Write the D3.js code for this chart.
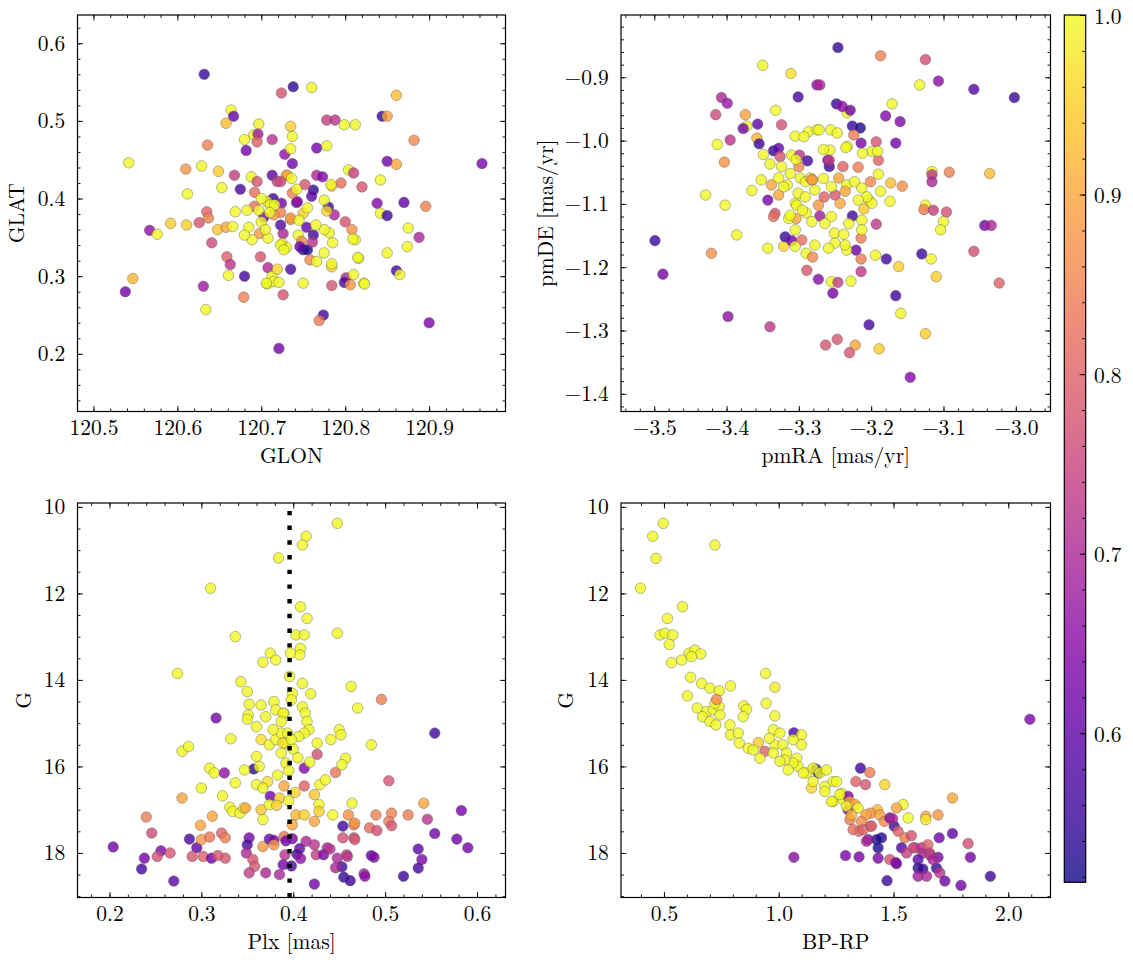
<!DOCTYPE html>
<html><head><meta charset="utf-8">
<script src="https://cdn.jsdelivr.net/npm/d3@7"></script>
<style>body{margin:0;background:#fff}</style>
</head><body>
<svg id="c" width="1133" height="965"></svg>
<script>
// ---- data: [x, y, membership probability] ----
const glonGlat = [
[120.632,0.560,0.55],[120.738,0.544,0.55],[120.724,0.536,0.78],[120.664,0.514,1.0],[120.667,0.506,0.60],
[120.658,0.497,0.93],[120.697,0.496,0.99],[120.691,0.482,1.0],[120.680,0.476,1.0],[120.696,0.483,0.68],
[120.695,0.473,0.80],[120.713,0.476,0.72],[120.682,0.462,0.62],[120.636,0.469,0.85],[120.542,0.446,1.0],
[120.610,0.438,0.88],[120.629,0.442,1.0],[120.649,0.435,0.95],[120.668,0.430,0.74],[120.612,0.406,1.0],
[120.653,0.414,1.0],[120.675,0.412,0.57],[120.688,0.428,1.0],[120.695,0.422,0.78],[120.692,0.408,0.82],
[120.692,0.390,0.82],[120.683,0.385,1.0],[120.669,0.383,1.0],[120.635,0.383,0.80],[120.626,0.369,0.78],
[120.637,0.375,0.85],[120.592,0.368,0.95],[120.611,0.366,0.95],[120.567,0.359,0.66],[120.576,0.354,1.0],
[120.648,0.360,0.94],[120.658,0.363,0.90],[120.666,0.364,1.0],[120.685,0.363,1.0],[120.698,0.355,0.88],
[120.689,0.347,1.0],[120.703,0.376,0.62],[120.641,0.343,0.76],[120.659,0.325,0.80],[120.663,0.315,0.72],
[120.661,0.301,1.0],[120.680,0.300,0.57],[120.699,0.325,0.78],[120.708,0.311,0.70],[120.707,0.290,1.0],
[120.713,0.300,1.0],[120.719,0.309,0.96],[120.714,0.293,1.0],[120.735,0.309,0.57],[120.726,0.276,0.78],
[120.679,0.273,0.85],[120.631,0.287,0.68],[120.634,0.257,1.0],[120.547,0.297,0.92],[120.538,0.280,0.62],
[120.721,0.207,0.62],[120.728,0.457,0.66],[120.737,0.445,0.62],[120.735,0.493,0.95],[120.737,0.480,1.0],
[120.735,0.464,1.0],[120.730,0.430,0.92],[120.713,0.430,0.60],[120.719,0.422,0.74],[120.714,0.400,0.55],
[120.724,0.394,0.62],[120.723,0.382,0.85],[120.723,0.366,0.58],[120.726,0.355,0.70],[120.725,0.342,1.0],
[120.730,0.337,1.0],[120.735,0.373,0.90],[120.742,0.395,0.62],[120.766,0.465,0.63],[120.778,0.468,1.0],
[120.844,0.506,0.55],[120.778,0.501,0.74],[120.788,0.501,0.72],[120.799,0.495,1.0],[120.812,0.495,1.0],
[120.850,0.448,0.62],[120.842,0.424,1.0],[120.820,0.415,0.78],[120.804,0.437,1.0],[120.810,0.433,0.74],
[120.795,0.420,0.82],[120.838,0.394,0.64],[120.842,0.381,1.0],[120.850,0.378,0.56],[120.816,0.323,1.0],
[120.800,0.370,0.78],[120.808,0.360,0.87],[120.812,0.347,1.0],[120.801,0.298,0.70],[120.799,0.292,0.57],
[120.806,0.289,0.88],[120.810,0.302,1.0],[120.822,0.291,1.0],[120.784,0.288,0.78],[120.784,0.312,0.95],
[120.784,0.316,1.0],[120.774,0.250,0.57],[120.769,0.243,0.84],[120.750,0.291,1.0],[120.706,0.291,1.0],
[120.721,0.292,1.0],[120.723,0.340,1.0],[120.727,0.334,1.0],[120.744,0.353,1.0],[120.748,0.345,0.85],
[120.750,0.334,0.55],[120.755,0.334,0.53],[120.746,0.338,0.60],[120.758,0.321,0.86],[120.766,0.319,1.0],
[120.775,0.330,1.0],[120.785,0.343,1.0],[120.781,0.356,1.0],[120.775,0.360,1.0],[120.762,0.353,0.56],
[120.754,0.363,0.60],[120.765,0.366,1.0],[120.761,0.344,0.72],[120.780,0.389,0.56],[120.787,0.379,0.70],
[120.775,0.398,1.0],[120.778,0.384,0.96],[120.762,0.411,0.55],[120.760,0.403,0.60],[120.766,0.430,0.70],
[120.773,0.428,0.64],[120.784,0.416,0.95],[120.752,0.418,0.78],[120.750,0.381,0.95],[120.743,0.396,0.66],
[120.737,0.407,0.84],[120.731,0.430,0.90],[120.736,0.426,1.0],[120.723,0.422,0.76],[120.715,0.379,0.88],
[120.735,0.375,0.88],[120.708,0.349,1.0],[120.680,0.353,1.0],[120.707,0.396,1.0],[120.711,0.392,1.0],
[120.716,0.392,1.0],[120.760,0.543,1.0],[120.861,0.533,0.93],[120.850,0.506,0.90],[120.882,0.475,0.86],
[120.861,0.444,0.90],[120.963,0.445,0.63],[120.870,0.395,0.60],[120.896,0.390,0.85],[120.875,0.362,1.0],
[120.888,0.350,0.70],[120.874,0.338,1.0],[120.850,0.330,1.0],[120.861,0.307,0.57],[120.865,0.302,1.0],
[120.823,0.290,1.0],[120.815,0.324,1.0],[120.809,0.348,1.0],[120.900,0.240,0.63],[120.783,0.418,1.0],
[120.700,0.370,1.0],[120.705,0.360,1.0],[120.710,0.382,1.0],[120.745,0.372,1.0],[120.755,0.388,1.0],
[120.742,0.412,1.0],[120.700,0.400,1.0],[120.697,0.385,1.0]
];
const pmraPmde = [
[-3.350,-0.881,1.0],[-3.311,-0.894,0.97],[-3.275,-0.912,0.66],[-3.301,-0.931,0.57],[-3.407,-0.932,0.70],
[-3.399,-0.941,0.67],[-3.415,-0.959,0.76],[-3.374,-0.959,0.90],[-3.332,-0.952,1.0],[-3.372,-0.977,1.0],
[-3.357,-0.974,0.60],[-3.377,-0.981,0.62],[-3.324,-0.975,0.77],[-3.395,-0.999,0.72],[-3.358,-0.996,0.92],
[-3.355,-1.005,0.56],[-3.413,-1.006,1.0],[-3.403,-1.034,0.87],[-3.335,-1.016,0.55],[-3.328,-1.012,0.60],
[-3.349,-1.022,1.0],[-3.340,-1.037,1.0],[-3.326,-1.025,0.78],[-3.305,-0.993,1.0],[-3.310,-1.023,1.0],
[-3.299,-1.023,0.72],[-3.288,-1.032,0.57],[-3.300,-1.041,0.86],[-3.287,-0.986,1.0],[-3.275,-0.983,1.0],
[-3.352,-1.062,1.0],[-3.338,-1.070,0.90],[-3.328,-1.059,1.0],[-3.316,-1.070,1.0],[-3.328,-1.086,0.90],
[-3.343,-1.094,0.63],[-3.365,-1.079,1.0],[-3.429,-1.086,1.0],[-3.333,-1.115,0.78],[-3.335,-1.120,0.82],
[-3.402,-1.102,1.0],[-3.386,-1.149,1.0],[-3.343,-1.170,1.0],[-3.321,-1.167,0.96],[-3.319,-1.152,0.55],
[-3.310,-1.158,0.62],[-3.296,-1.157,0.82],[-3.305,-1.167,1.0],[-3.305,-1.141,1.0],[-3.305,-1.099,1.0],
[-3.304,-1.123,0.90],[-3.314,-1.123,1.0],[-3.290,-1.114,1.0],[-3.290,-1.178,1.0],[-3.281,-1.184,0.86],
[-3.289,-1.205,0.78],[-3.273,-1.219,0.65],[-3.499,-1.158,0.56],[-3.488,-1.211,0.63],[-3.421,-1.178,0.87],
[-3.398,-1.278,0.66],[-3.340,-1.294,0.73],[-3.298,-1.059,1.0],[-3.291,-1.065,1.0],[-3.284,-1.059,0.96],
[-3.246,-0.853,0.55],[-3.187,-0.866,0.85],[-3.125,-0.872,0.77],[-3.133,-0.912,1.0],[-3.107,-0.906,0.65],
[-3.058,-0.919,0.58],[-3.002,-0.932,0.56],[-3.271,-0.912,0.70],[-3.233,-0.956,1.0],[-3.248,-0.942,0.56],
[-3.240,-0.946,0.65],[-3.229,-0.952,0.62],[-3.171,-0.942,1.0],[-3.180,-0.961,0.64],[-3.160,-0.970,0.64],
[-3.226,-0.977,0.55],[-3.215,-0.980,0.53],[-3.224,-0.991,0.84],[-3.214,-1.004,0.63],[-3.193,-1.002,0.78],
[-3.190,-1.031,0.80],[-3.166,-1.004,0.62],[-3.199,-1.017,1.0],[-3.212,-1.020,1.0],[-3.233,-1.009,1.0],
[-3.257,-1.015,1.0],[-3.260,-1.031,0.63],[-3.258,-1.041,0.56],[-3.239,-1.041,0.80],[-3.218,-1.042,0.84],
[-3.272,-0.983,1.0],[-3.256,-0.983,1.0],[-3.247,-0.988,1.0],[-3.293,-0.994,1.0],[-3.116,-1.049,1.0],
[-3.116,-1.054,0.73],[-3.116,-1.065,0.70],[-3.092,-1.050,0.85],[-3.036,-1.052,0.93],[-3.201,-1.065,0.86],
[-3.173,-1.067,0.93],[-3.157,-1.072,0.87],[-3.187,-1.080,1.0],[-3.174,-1.096,1.0],[-3.245,-1.059,0.90],
[-3.281,-1.062,0.95],[-3.250,-1.086,0.78],[-3.243,-1.099,0.90],[-3.265,-1.089,0.80],[-3.210,-1.108,0.94],
[-3.203,-1.094,1.0],[-3.125,-1.102,1.0],[-3.127,-1.109,0.84],[-3.114,-1.110,0.74],[-3.096,-1.113,0.77],
[-3.100,-1.128,1.0],[-3.104,-1.141,1.0],[-3.043,-1.134,0.63],[-3.034,-1.134,0.70],[-3.058,-1.175,0.77],
[-3.023,-1.225,0.80],[-3.271,-1.119,0.68],[-3.226,-1.119,0.56],[-3.193,-1.132,0.73],[-3.214,-1.154,0.84],
[-3.251,-1.146,1.0],[-3.238,-1.148,1.0],[-3.221,-1.173,0.62],[-3.214,-1.187,0.84],[-3.214,-1.207,0.73],
[-3.194,-1.181,1.0],[-3.179,-1.187,0.56],[-3.130,-1.179,0.56],[-3.117,-1.187,1.0],[-3.162,-1.199,0.95],
[-3.110,-1.215,0.95],[-3.255,-1.223,1.0],[-3.246,-1.224,0.74],[-3.253,-1.241,0.63],[-3.228,-1.222,1.0],
[-3.166,-1.245,0.56],[-3.159,-1.273,1.0],[-3.203,-1.291,0.57],[-3.125,-1.305,0.95],[-3.263,-1.323,0.78],
[-3.247,-1.314,0.78],[-3.222,-1.323,0.90],[-3.230,-1.335,0.78],[-3.189,-1.329,0.95],[-3.146,-1.374,0.64],
[-3.191,-1.017,1.0],[-3.235,-1.011,1.0],[-3.266,-1.014,1.0],[-3.258,-1.031,0.74],[-3.304,-1.030,1.0],
[-3.282,-1.062,0.88],[-3.266,-1.060,1.0],[-3.234,-1.070,1.0],[-3.223,-1.065,1.0],[-3.213,-1.075,1.0],
[-3.190,-1.053,1.0],[-3.236,-1.080,0.90],[-3.273,-1.102,0.88],[-3.213,-1.126,1.0],[-3.234,-1.173,1.0],
[-3.301,-1.083,1.0],[-3.291,-1.089,1.0],[-3.303,-1.102,1.0],[-3.312,-1.118,1.0],[-3.295,-1.110,1.0],
[-3.282,-1.128,1.0],[-3.255,-1.120,1.0],[-3.264,-1.131,1.0],[-3.236,-1.165,1.0],[-3.250,-1.162,1.0],
[-3.199,-1.099,1.0],[-3.206,-1.089,1.0],[-3.213,-1.141,1.0],[-3.278,-1.165,1.0],[-3.259,-1.170,1.0],
[-3.324,-1.041,1.0],[-3.312,-1.052,1.0],[-3.321,-1.073,1.0],[-3.231,-1.131,1.0],[-3.218,-1.094,1.0],
[-3.255,-1.073,1.0],[-3.278,-1.078,1.0]
];
const plxG = [
[0.310,11.88,1.0],[0.337,13.00,1.0],[0.274,13.85,1.0],[0.384,11.18,1.0],[0.367,13.59,1.0],[0.375,13.38,1.0],
[0.381,13.54,1.0],[0.343,14.04,1.0],[0.350,14.27,1.0],[0.352,14.56,1.0],[0.351,14.81,1.0],[0.350,14.91,1.0],
[0.365,14.58,1.0],[0.370,14.85,1.0],[0.379,14.50,1.0],[0.381,14.69,1.0],[0.390,14.77,1.0],[0.360,15.08,1.0],
[0.365,15.38,0.97],[0.374,15.50,1.0],[0.381,15.38,1.0],[0.387,15.23,1.0],[0.392,15.46,1.0],[0.387,15.69,1.0],
[0.392,15.92,1.0],[0.316,14.88,0.63],[0.332,15.36,1.0],[0.279,15.65,1.0],[0.286,15.54,1.0],[0.309,16.04,1.0],
[0.314,16.15,1.0],[0.325,16.15,0.66],[0.337,16.38,1.0],[0.357,16.06,0.55],[0.360,15.77,1.0],[0.363,16.00,1.0],
[0.347,16.08,1.0],[0.300,16.50,1.0],[0.360,16.42,1.0],[0.372,16.35,0.97],[0.367,16.50,1.0],[0.375,16.69,0.62],
[0.390,16.45,0.90],[0.385,16.73,0.95],[0.323,16.68,1.0],[0.331,16.94,1.0],[0.334,17.04,1.0],[0.342,17.08,1.0],
[0.346,16.96,1.0],[0.348,16.96,0.90],[0.365,17.00,0.94],[0.367,17.23,1.0],[0.374,16.88,1.0],[0.279,16.73,0.90],
[0.312,17.15,0.90],[0.299,17.36,0.90],[0.240,17.17,0.84],[0.246,17.54,0.76],[0.204,17.86,0.62],[0.238,18.12,0.63],
[0.235,18.37,0.57],[0.256,17.95,0.64],[0.252,18.08,0.77],[0.266,18.00,0.78],[0.270,18.65,0.60],[0.287,17.68,0.57],
[0.295,17.88,0.60],[0.290,18.08,0.78],[0.300,17.69,0.88],[0.309,17.63,0.83],[0.302,18.08,0.80],[0.311,18.12,0.62],
[0.322,17.54,0.80],[0.326,17.65,0.84],[0.326,18.12,0.78],[0.318,18.06,0.78],[0.352,17.65,0.63],[0.350,17.81,0.57],
[0.349,18.00,0.70],[0.356,18.15,0.78],[0.358,18.31,0.78],[0.352,18.46,0.74],[0.367,17.85,0.88],[0.374,17.68,0.60],
[0.379,17.71,0.63],[0.370,18.46,0.70],[0.385,18.50,0.70],[0.390,17.62,0.83],[0.379,17.81,0.88],
[0.448,10.38,1.0],[0.414,10.68,1.0],[0.410,10.88,1.0],[0.408,12.31,1.0],[0.415,12.58,1.0],[0.448,12.92,1.0],
[0.403,12.96,1.0],[0.412,12.96,1.0],[0.408,13.27,1.0],[0.407,13.42,1.0],[0.397,13.38,1.0],[0.396,13.92,1.0],
[0.399,14.31,1.0],[0.410,14.08,1.0],[0.419,14.32,1.0],[0.463,14.15,1.0],[0.470,14.65,1.0],[0.496,14.45,0.84],
[0.410,14.62,1.0],[0.413,14.77,1.0],[0.415,14.96,1.0],[0.417,15.15,1.0],[0.412,15.23,1.0],[0.406,15.31,1.0],
[0.398,14.46,1.0],[0.389,14.77,1.0],[0.387,14.96,1.0],[0.394,15.23,1.0],[0.389,15.46,0.97],[0.398,15.38,1.0],
[0.378,15.15,1.0],[0.441,15.38,1.0],[0.450,15.15,1.0],[0.452,15.27,1.0],[0.426,15.46,1.0],[0.485,15.50,1.0],
[0.426,15.72,0.77],[0.412,16.04,0.64],[0.446,16.14,0.83],[0.457,15.81,1.0],[0.453,15.96,1.0],[0.412,16.45,0.80],
[0.429,16.42,1.0],[0.435,16.31,1.0],[0.504,16.33,0.78],[0.423,16.65,0.94],[0.428,16.88,1.0],[0.428,17.04,0.95],
[0.464,16.85,1.0],[0.443,17.12,1.0],[0.403,17.12,0.92],[0.412,17.12,0.95],[0.423,17.27,0.90],[0.399,17.35,0.90],
[0.460,17.12,0.87],[0.466,17.35,0.84],[0.454,17.38,0.56],[0.490,17.12,0.85],[0.507,17.08,0.85],[0.525,17.12,0.84],
[0.483,17.42,0.82],[0.491,17.48,0.77],[0.504,17.27,0.84],[0.507,17.37,0.78],[0.454,17.65,0.77],[0.466,17.65,0.77],
[0.399,17.67,0.63],[0.414,17.73,0.70],[0.423,17.81,0.72],[0.437,17.88,0.70],[0.425,18.04,0.74],[0.407,17.90,0.60],
[0.404,18.03,0.57],[0.408,18.13,0.66],[0.433,18.04,0.63],[0.448,18.12,0.70],[0.458,18.04,0.76],[0.485,18.06,0.60],
[0.453,18.32,0.56],[0.446,18.34,0.70],[0.455,18.56,0.55],[0.477,18.48,0.70],[0.423,18.72,0.62],
[0.554,15.23,0.56],[0.542,16.85,0.90],[0.583,17.02,0.63],[0.546,17.22,0.72],[0.554,17.55,0.62],[0.578,17.68,0.62],
[0.590,17.88,0.63],[0.536,17.91,0.60],[0.540,18.15,0.63],[0.536,18.35,0.57],[0.520,18.54,0.56],[0.488,18.10,0.64],
[0.478,18.54,0.65],[0.462,18.64,0.56],[0.459,18.08,0.72],[0.467,17.69,0.78],[0.467,17.31,0.88],[0.440,17.91,0.72],
[0.392,17.72,0.62],[0.391,18.04,0.72],[0.389,18.27,0.63],[0.398,18.30,0.57],
[0.400,15.60,1.0],[0.405,15.80,1.0],[0.395,16.10,1.0],[0.418,15.90,1.0],[0.383,16.20,1.0],[0.402,16.60,0.96],
[0.382,16.90,0.95],[0.395,16.80,1.0]
];
const bprpG = [
[0.497,10.38,1.0],[0.451,10.68,1.0],[0.465,11.19,1.0],[0.722,10.88,1.0],[0.398,11.88,1.0],[0.581,12.31,1.0],
[0.515,12.58,1.0],[0.483,12.96,1.0],[0.504,12.92,1.0],[0.538,12.96,1.0],[0.523,13.18,1.0],[0.533,13.60,1.0],
[0.577,13.54,1.0],[0.610,13.38,1.0],[0.635,13.31,1.0],[0.660,13.40,1.0],[0.620,13.46,1.0],[0.616,13.94,1.0],
[0.664,14.08,1.0],[0.700,14.19,1.0],[0.741,14.25,1.0],[0.790,14.14,1.0],[0.602,14.37,1.0],[0.645,14.65,1.0],
[0.686,14.73,1.0],[0.715,14.69,1.0],[0.741,14.62,1.0],[0.722,14.54,1.0],[0.729,14.45,0.86],[0.668,14.85,1.0],
[0.700,14.96,1.0],[0.726,15.04,1.0],[0.744,14.81,1.0],[0.848,14.60,1.0],[0.860,14.68,1.0],[0.845,14.85,1.0],
[0.943,13.85,1.0],[0.983,14.17,0.98],[0.945,14.54,1.0],[0.983,14.83,1.0],[0.787,15.04,1.0],[0.790,15.27,1.0],
[0.824,15.23,1.0],[0.828,15.46,1.0],[0.867,15.58,1.0],[0.911,15.45,0.95],[0.940,15.65,0.80],[0.976,15.15,1.0],
[1.005,15.23,1.0],[0.983,15.50,1.0],[1.017,15.50,1.0],[0.959,15.35,1.0],[1.066,15.22,0.58],[1.099,15.27,1.0],
[1.099,15.50,1.0],[1.063,15.38,1.0],[1.066,18.10,0.65],[1.121,16.15,1.0],[1.078,15.81,1.0],[1.085,16.00,1.0],
[1.143,16.50,0.96],[1.162,16.06,0.57],[1.172,16.15,0.55],[1.034,15.69,1.0],[1.063,15.92,1.0],[1.027,15.85,1.0],
[2.094,14.91,0.63],[1.107,16.15,1.0],[1.150,16.04,1.0],[1.179,16.15,1.0],[1.208,16.08,1.0],[1.237,16.35,1.0],
[1.150,16.35,1.0],[1.201,16.46,1.0],[1.356,16.04,0.56],[1.397,16.14,0.84],[1.336,16.35,0.80],[1.378,16.42,0.78],
[1.462,16.42,0.96],[1.274,16.62,1.0],[1.237,16.81,1.0],[1.281,16.77,1.0],[1.302,16.69,0.63],[1.302,17.00,0.66],
[1.309,16.81,0.90],[1.332,16.88,0.90],[1.346,16.96,1.0],[1.757,16.73,0.90],[1.542,16.88,1.0],[1.513,16.96,0.90],
[1.564,17.19,1.0],[1.641,17.15,0.90],[1.641,17.23,0.98],[1.694,17.12,0.88],[1.430,17.00,0.92],[1.400,17.08,0.88],
[1.440,17.12,0.90],[1.380,17.12,0.90],[1.310,17.23,0.84],[1.360,17.27,0.86],[1.350,17.50,0.80],[1.400,17.38,0.86],
[1.460,17.27,0.86],[1.503,17.38,0.56],[1.484,17.19,0.63],[1.520,17.50,0.80],[1.550,17.65,0.84],[1.448,17.65,0.53],
[1.426,17.69,0.53],[1.433,17.88,0.53],[1.389,17.69,0.66],[1.535,17.88,0.58],[1.699,17.65,0.62],[1.757,17.55,0.60],
[1.825,17.78,0.77],[1.835,18.10,0.63],[1.694,18.10,0.63],[1.628,18.00,0.70],[1.658,18.04,0.72],[1.607,18.15,0.60],
[1.607,18.35,0.55],[1.628,18.37,0.55],[1.687,18.35,0.55],[1.702,18.46,0.72],[1.724,18.65,0.62],[1.794,18.75,0.62],
[1.922,18.54,0.56],[1.472,18.64,0.56],[1.607,18.54,0.68],[1.291,18.06,0.63],[1.350,18.09,0.63],[1.433,18.12,0.63],
[1.513,18.25,0.62],[1.557,18.00,0.74],[1.593,17.88,0.74],[1.484,18.15,0.78],[1.578,17.60,0.78],[1.382,17.73,0.70],
[1.496,17.21,0.70],[1.510,18.22,0.64],[1.644,18.54,0.70],[1.586,17.88,0.76],[1.622,17.88,0.72],[1.650,17.81,0.80],
[1.657,18.00,0.74],[1.672,18.15,0.70],[1.324,17.46,0.82],[1.368,17.46,0.80],[1.404,17.38,0.78],
[1.252,16.35,1.0],[1.201,16.58,1.0],[1.230,16.81,1.0],[1.266,16.65,1.0],[1.295,16.92,1.0],[1.317,17.12,0.92],
[0.889,15.62,1.0],[0.918,15.81,1.0],[0.976,15.69,1.0],[1.005,15.88,1.0],[1.041,16.08,1.0]
];
// tick labels
const ticksGLON = [120.5, 120.6, 120.7, 120.8, 120.9];
const ticksGLAT = [0.2, 0.3, 0.4, 0.5, 0.6];
const ticksPMRA = [-3.5, -3.4, -3.3, -3.2, -3.1, -3.0];
const ticksPMDE = [-1.4, -1.3, -1.2, -1.1, -1.0, -0.9];
const ticksPLX = [0.2, 0.3, 0.4, 0.5, 0.6];
const ticksG = [10, 12, 14, 16, 18];
const ticksBPRP = [0.5, 1.0, 1.5, 2.0];
const ticksProb = [0.6, 0.7, 0.8, 0.9, 1.0];
const plxCut = 0.396;

// ---- drawing ----
const VMIN = 0.517, VMAX = 1.0;
const cmap = p => d3.interpolatePlasma((p - VMIN) / (VMAX - VMIN));
const FONT = '"Latin Modern Roman","Liberation Serif",serif';
const FS = 21.5;
const svg = d3.select("#c");
const defs = svg.append("defs");

function minorTicks(dom, step) {
  const lo = Math.min(...dom), hi = Math.max(...dom);
  const out = [];
  for (let k = Math.ceil(lo / step - 1e-9); k * step <= hi + 1e-9; k++) out.push(+(k * step).toFixed(6));
  return out;
}

const panels = [
  {data: glonGlat, box: [77.5, 505.5, 15, 411.5], xd: [120.481, 120.991], yd: [0.1257, 0.6364],
   xt: ticksGLON, yt: ticksGLAT, xm: 0.02, ym: 0.02, xf: ".1f", yf: ".1f", xl: "GLON", yl: "GLAT", ylx: 24},
  {data: pmraPmde, box: [621, 1050.5, 15, 411.5], xd: [-3.546, -2.952], yd: [-1.428, -0.8016],
   xt: ticksPMRA, yt: ticksPMDE, xm: 0.02, ym: 0.02, xf: ".1f", yf: ".1f", xl: "pmRA [mas/yr]", yl: "pmDE [mas/yr]", ylx: 553},
  {data: plxG, box: [77.5, 505.5, 503, 897.5], xd: [0.1652, 0.631], yd: [19.03, 9.91],
   xt: ticksPLX, yt: ticksG, xm: 0.02, ym: 0.5, xf: ".1f", yf: "d", xl: "Plx [mas]", yl: "G", ylx: 30.5, cut: true},
  {data: bprpG, box: [621, 1050.5, 503, 897.5], xd: [0.3128, 2.184], yd: [19.03, 9.91],
   xt: ticksBPRP, yt: ticksG, xm: 0.1, ym: 0.5, xf: ".1f", yf: "d", xl: "BP-RP", yl: "G", ylx: 573}
];

function styleAxis(g) {
  g.select(".domain").remove();
  g.attr("font-family", null).attr("font-size", null);
  g.selectAll(".tick line").attr("stroke", "#000").attr("stroke-width", 0.9);
  g.selectAll("text").style("font-family", FONT).style("font-size", FS + "px").attr("fill", "#000");
}

panels.forEach((P, i) => {
  const [x0, x1, y0, y1] = P.box;
  const x = d3.scaleLinear().domain(P.xd).range([x0, x1]);
  const y = d3.scaleLinear().domain(P.yd).range([y1, y0]);
  const g = svg.append("g");
  const cid = "clip" + i;
  defs.append("clipPath").attr("id", cid).append("rect")
    .attr("x", x0).attr("y", y0).attr("width", x1 - x0).attr("height", y1 - y0);

  g.append("g").attr("clip-path", `url(#${cid})`).selectAll("circle").data(P.data).join("circle")
    .attr("cx", d => x(d[0])).attr("cy", d => y(d[1])).attr("r", 5.3)
    .attr("fill", d => cmap(d[2])).attr("fill-opacity", 0.8)
    .attr("stroke", "#5a5a5a").attr("stroke-opacity", 0.7).attr("stroke-width", 0.6);

  if (P.cut) {
    g.append("line").attr("x1", x(plxCut)).attr("x2", x(plxCut)).attr("y1", y1).attr("y2", y0)
      .attr("stroke", "#000").attr("stroke-width", 4.4).attr("stroke-dasharray", "4.4,10.3");
  }

  const xMin = minorTicks(P.xd, P.xm), yMin = minorTicks(P.yd, P.ym);
  g.append("g").attr("transform", `translate(0,${y1})`)
    .call(d3.axisBottom(x).tickValues(xMin).tickSize(-3).tickFormat("")).call(styleAxis);
  g.append("g").attr("transform", `translate(0,${y0})`)
    .call(d3.axisTop(x).tickValues(xMin).tickSize(-3).tickFormat("")).call(styleAxis);
  g.append("g").attr("transform", `translate(${x0},0)`)
    .call(d3.axisLeft(y).tickValues(yMin).tickSize(-3).tickFormat("")).call(styleAxis);
  g.append("g").attr("transform", `translate(${x1},0)`)
    .call(d3.axisRight(y).tickValues(yMin).tickSize(-3).tickFormat("")).call(styleAxis);

  g.append("g").attr("transform", `translate(0,${y1})`)
    .call(d3.axisBottom(x).tickValues(P.xt).tickSize(-5.5).tickPadding(8.4).tickFormat(d3.format(P.xf))).call(styleAxis);
  g.append("g").attr("transform", `translate(0,${y0})`)
    .call(d3.axisTop(x).tickValues(P.xt).tickSize(-5.5).tickFormat("")).call(styleAxis);
  g.append("g").attr("transform", `translate(${x0},0)`)
    .call(d3.axisLeft(y).tickValues(P.yt).tickSize(-5.5).tickPadding(12.3).tickFormat(d3.format(P.yf))).call(styleAxis);
  g.append("g").attr("transform", `translate(${x1},0)`)
    .call(d3.axisRight(y).tickValues(P.yt).tickSize(-5.5).tickFormat("")).call(styleAxis);

  g.append("rect").attr("x", x0).attr("y", y0).attr("width", x1 - x0).attr("height", y1 - y0)
    .attr("fill", "none").attr("stroke", "#000").attr("stroke-width", 1.2);

  g.append("text").attr("x", (x0 + x1) / 2).attr("y", y1 + 51).attr("text-anchor", "middle")
    .style("font-family", FONT).style("font-size", FS + "px").text(P.xl);
  g.append("text").attr("transform", `translate(${P.ylx},${(y0 + y1) / 2}) rotate(-90)`)
    .attr("text-anchor", "middle").style("font-family", FONT).style("font-size", FS + "px").text(P.yl);
});

// ---- colorbar ----
const cb = {x0: 1064.3, x1: 1085.7, y0: 15, y1: 882.3};
const grad = defs.append("linearGradient").attr("id", "cbgrad")
  .attr("x1", 0).attr("y1", 1).attr("x2", 0).attr("y2", 0);
d3.range(0, 1.0001, 0.02).forEach(t => {
  grad.append("stop").attr("offset", t).attr("stop-color", d3.interpolatePlasma(t));
});
const cy = d3.scaleLinear().domain([VMIN, VMAX]).range([cb.y1, cb.y0]);
svg.append("rect").attr("x", cb.x0).attr("y", cb.y0).attr("width", cb.x1 - cb.x0).attr("height", cb.y1 - cb.y0)
  .attr("fill", "url(#cbgrad)").attr("fill-opacity", 0.8);
svg.append("g").attr("transform", `translate(${cb.x1},0)`)
  .call(d3.axisRight(cy).tickValues(minorTicks([VMIN, VMAX], 0.02)).tickSize(-3.5).tickFormat("")).call(styleAxis);
svg.append("g").attr("transform", `translate(${cb.x1},0)`)
  .call(d3.axisRight(cy).tickValues(ticksProb).tickSize(-6).tickPadding(8.3).tickFormat(d3.format(".1f")))
  .call(styleAxis)
  .call(g => g.selectAll("text").attr("dy", "0.38em"));
svg.append("rect").attr("x", cb.x0).attr("y", cb.y0).attr("width", cb.x1 - cb.x0).attr("height", cb.y1 - cb.y0)
  .attr("fill", "none").attr("stroke", "#000").attr("stroke-width", 1.2);
</script>
</body></html>
